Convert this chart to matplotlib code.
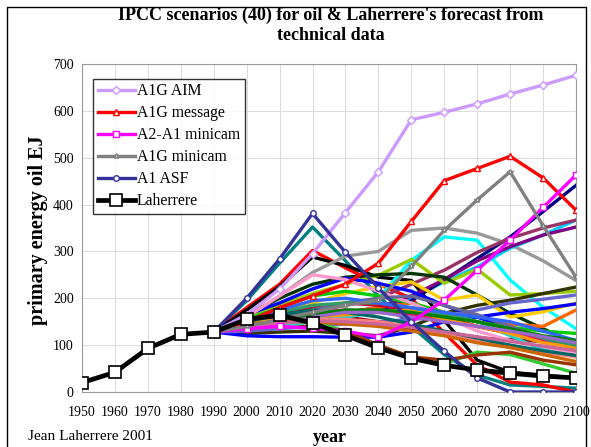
import matplotlib
matplotlib.use("Agg")
import matplotlib.pyplot as plt
from matplotlib.lines import Line2D

plt.rcParams["font.family"] = ["Liberation Serif", "DejaVu Serif"]

hist_years = [1950, 1960, 1970, 1980, 1990]
years = [1990, 2000, 2010, 2020, 2030, 2040, 2050, 2060, 2070, 2080, 2090, 2100]

laherrere_years = hist_years + years[1:]
laherrere = [20, 42, 93, 123, 128, 155, 164, 147, 121, 94, 72, 57, 47, 40, 34, 30]

# the five named IPCC scenarios
a1g_aim = [128, 165, 220, 295, 383, 470, 581, 597, 615, 636, 655, 676]
a1g_message = [128, 150, 180, 205, 230, 275, 364, 451, 477, 503, 457, 388]
a2_a1_minicam = [128, 135, 140, 136, 130, 117, 150, 196, 260, 324, 394, 463]
a1g_minicam = [128, 140, 155, 170, 185, 196, 268, 345, 410, 470, 355, 245]
a1_asf = [128, 200, 284, 381, 298, 222, 150, 87, 30, 0, 0, 0]

# the other unnamed scenarios (colour, values)
others = [
    ("#008080", [128, 195, 275, 352, 280, 205, 140, 80, 36, 15, 12, 8]),
    ("#ff0000", [128, 180, 230, 302, 265, 230, 200, 126, 57, 21, 15, 0]),
    ("#000000", [128, 175, 225, 288, 270, 245, 238, 153, 68, 42, 36, 30]),
    ("#999999", [128, 160, 205, 255, 290, 300, 345, 350, 339, 315, 280, 238]),
    ("#00ffff", [128, 145, 160, 175, 185, 200, 281, 331, 324, 239, 181, 135]),
    ("#00ccff", [128, 140, 150, 160, 165, 175, 200, 235, 267, 307, 335, 367]),
    ("#000080", [128, 140, 150, 165, 170, 175, 195, 239, 285, 331, 385, 441]),
    ("#993366", [128, 145, 160, 175, 185, 200, 230, 260, 298, 328, 350, 367]),
    ("#800080", [128, 140, 150, 160, 170, 180, 205, 240, 280, 310, 335, 352]),
    ("#99cc00", [128, 160, 185, 210, 230, 249, 283, 232, 262, 207, 210, 215]),
    ("#333300", [128, 125, 128, 130, 125, 120, 140, 168, 185, 196, 210, 224]),
    ("#003300", [128, 165, 200, 230, 245, 250, 253, 245, 207, 168, 135, 104]),
    ("#ffcc00", [128, 150, 170, 190, 210, 225, 235, 196, 207, 160, 171, 190]),
    ("#ff6600", [128, 140, 150, 160, 170, 180, 190, 170, 160, 145, 140, 175]),
    ("#0000ff", [128, 165, 190, 220, 243, 232, 215, 185, 160, 135, 115, 96]),
    ("#0000ff", [128, 120, 118, 118, 117, 117, 128, 150, 160, 170, 178, 188]),
    ("#6666cc", [128, 130, 135, 140, 145, 150, 155, 160, 175, 190, 198, 207]),
    ("#00cc00", [128, 155, 180, 205, 215, 205, 190, 170, 150, 138, 130, 125]),
    ("#33cc33", [128, 140, 145, 150, 130, 100, 70, 60, 85, 80, 60, 40]),
    ("#993300", [128, 135, 140, 140, 130, 100, 75, 68, 79, 85, 68, 58]),
    ("#800000", [128, 145, 160, 165, 160, 150, 136, 128, 115, 112, 108, 105]),
    ("#cc0033", [128, 150, 165, 180, 190, 185, 175, 160, 140, 125, 115, 107]),
    ("#ff99cc", [128, 160, 205, 250, 240, 215, 190, 160, 130, 110, 95, 85]),
    ("#ff0066", [128, 150, 160, 170, 175, 170, 165, 155, 140, 125, 110, 100]),
    ("#33cccc", [128, 135, 140, 150, 160, 170, 175, 165, 150, 120, 90, 75]),
    ("#666699", [128, 145, 160, 175, 190, 200, 205, 185, 165, 140, 115, 90]),
    ("#ff9900", [128, 145, 155, 160, 165, 170, 175, 155, 140, 125, 105, 95]),
    ("#339966", [128, 150, 170, 185, 190, 190, 180, 165, 150, 135, 115, 100]),
    ("#3366ff", [128, 150, 175, 195, 200, 190, 180, 170, 160, 150, 130, 110]),
    ("#ff8080", [128, 140, 150, 155, 155, 150, 140, 125, 110, 95, 85, 75]),
    ("#006666", [128, 150, 165, 175, 170, 160, 145, 130, 115, 100, 88, 78]),
    ("#008000", [128, 140, 150, 165, 175, 175, 170, 160, 150, 135, 120, 110]),
    ("#9966cc", [128, 135, 145, 160, 170, 170, 160, 150, 140, 130, 118, 105]),
    ("#cc6600", [128, 145, 150, 150, 145, 140, 130, 120, 105, 95, 80, 65]),
    ("#cc6699", [128, 140, 148, 152, 150, 145, 138, 128, 118, 108, 98, 88]),
]

fig = plt.figure(figsize=(5.91, 4.47), dpi=100)
ax = fig.add_axes([82 / 591, 1 - 392 / 447, 494 / 591, 328 / 447])

for col, vals in others:
    ax.plot(years, vals, color=col, lw=2.4, zorder=2)

named = [
    ("A1G AIM", a1g_aim, "#cc99ff", "D"),
    ("A1G message", a1g_message, "#ff0000", "^"),
    ("A2-A1 minicam", a2_a1_minicam, "#ff00ff", "s"),
    ("A1G minicam", a1g_minicam, "#808080", "*"),
    ("A1 ASF", a1_asf, "#333399", "o"),
]
handles = []
for name, vals, col, mk in named:
    h, = ax.plot(years, vals, color=col, lw=2.4, marker=mk, ms=4,
                 mfc="white", mec=col, mew=1.0, zorder=3, label=name)
    handles.append(h)

h, = ax.plot(laherrere_years, laherrere, color="black", lw=3.4, marker="s", ms=9,
             mfc="white", mec="black", mew=1.2, zorder=5, label="Laherrere")
handles.append(h)

ax.set_xlim(1950, 2100)
ax.set_ylim(0, 700)
ax.set_xticks(range(1950, 2101, 10))
ax.set_yticks(range(0, 701, 100))
ax.grid(True, color="#dddddd", lw=0.8)
ax.set_axisbelow(True)
for s in ax.spines.values():
    s.set_color("#999999")
ax.tick_params(length=0, labelsize=10, pad=10)
ax.tick_params(axis="y", pad=6)

leg = ax.legend(handles=handles, loc="upper left", bbox_to_anchor=(0.022, 0.955),
                borderaxespad=0, fontsize=11.3, frameon=True, fancybox=False,
                edgecolor="black", handlelength=2.4, labelspacing=0.38,
                borderpad=0.3, handletextpad=0.1)
leg.get_frame().set_linewidth(1.0)
leg.set_zorder(10)

fig.text(331 / 591, 1 - 15 / 447, "IPCC scenarios (40) for oil & Laherrere's forecast from",
         ha="center", va="center", fontsize=13, fontweight="bold")
fig.text(331 / 591, 1 - 35 / 447, "technical data",
         ha="center", va="center", fontsize=13, fontweight="bold")
fig.text(38 / 591, 1 - 230 / 447, "primary energy oil EJ", rotation=90, ha="center",
         va="center", fontsize=14.5, fontweight="bold")
fig.text(330 / 591, 1 - 437 / 447, "year", ha="center", va="center",
         fontsize=13, fontweight="bold")
fig.text(28 / 591, 1 - 436 / 447, "Jean Laherrere 2001", ha="left", va="center", fontsize=11)

# outer frame
fig.add_artist(Line2D([7 / 591, 7 / 591, 586 / 591, 586 / 591],
                      [0, 1 - 7 / 447, 1 - 7 / 447, 0], color="black", lw=1.0))

fig.savefig("out.png", dpi=100)
